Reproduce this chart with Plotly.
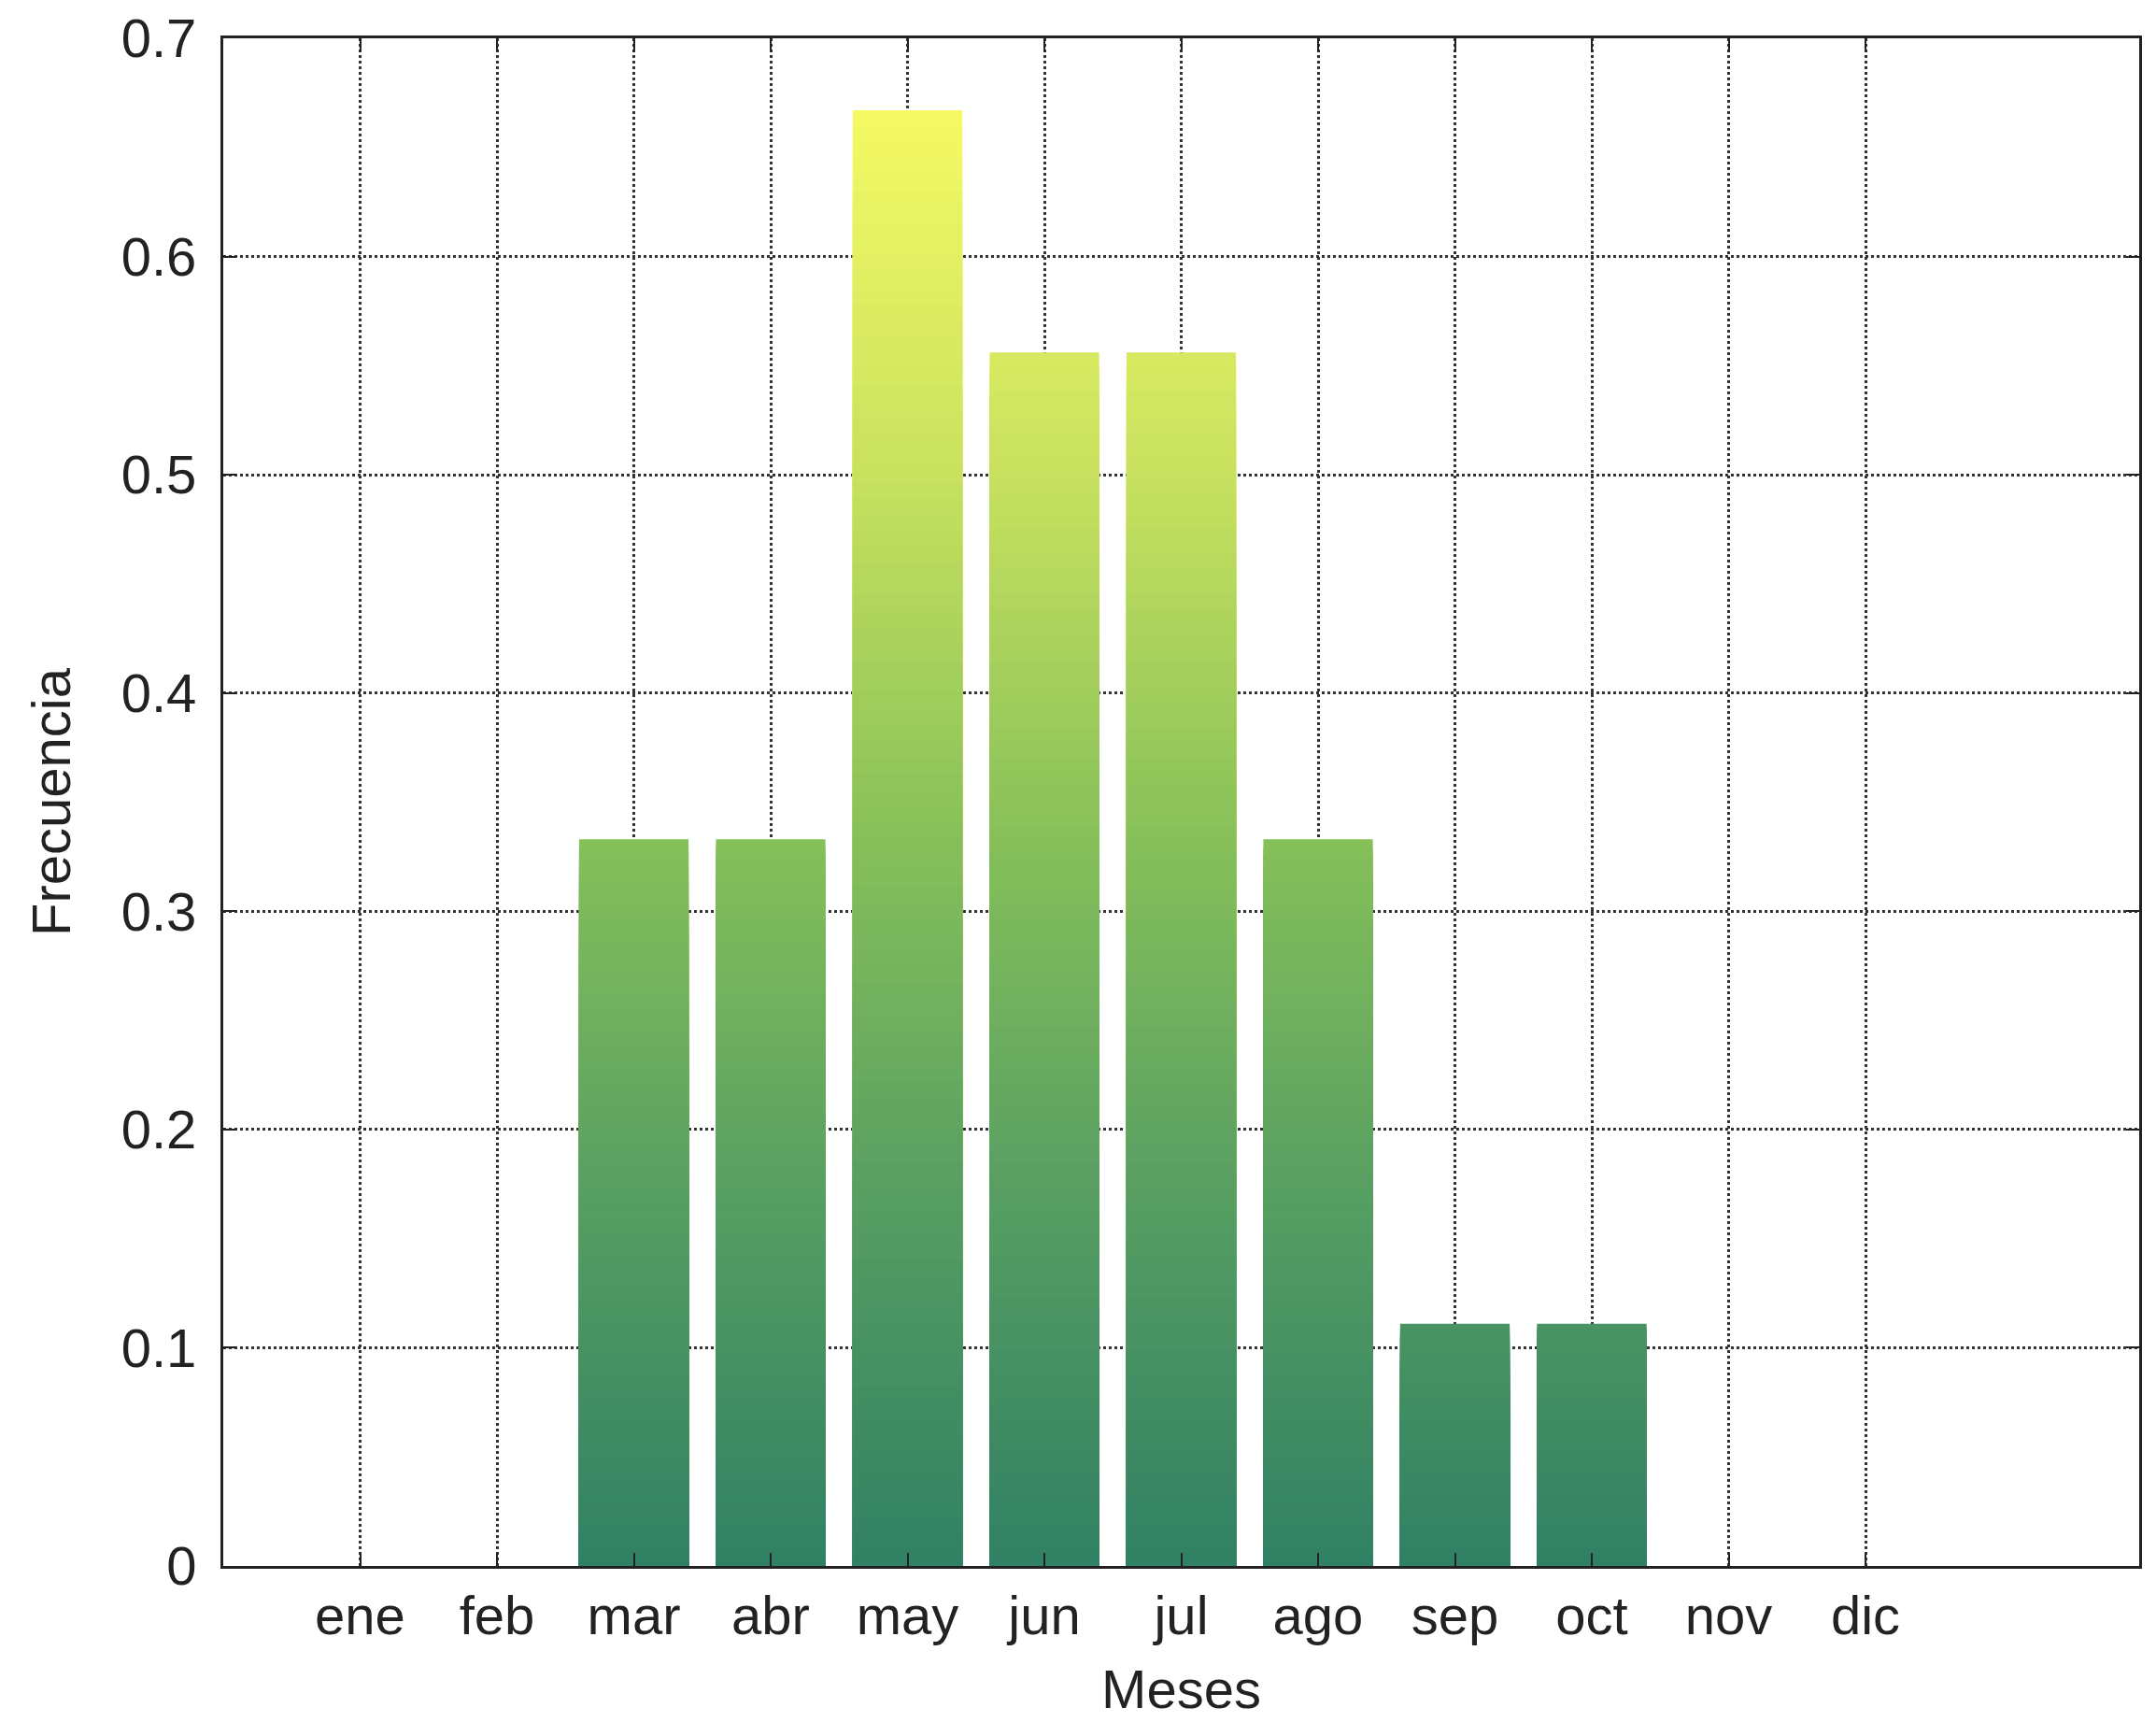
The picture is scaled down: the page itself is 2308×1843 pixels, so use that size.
import plotly.graph_objects as go
from plotly.colors import sample_colorscale

# ---- data ----
meses = ["ene", "feb", "mar", "abr", "may", "jun", "jul", "ago", "sep", "oct", "nov", "dic"]
posiciones = list(range(1, 13))
frecuencia = [0, 0, 0.333, 0.333, 0.667, 0.556, 0.556, 0.333, 0.111, 0.111, 0, 0]
y_ticks = [0, 0.1, 0.2, 0.3, 0.4, 0.5, 0.6, 0.7]
y_ticklabels = ["0", "0.1", "0.2", "0.3", "0.4", "0.5", "0.6", "0.7"]

# ---- style ----
colorscale = [
    [0.0, "rgb(48,128,100)"],
    [0.27, "rgb(90,160,98)"],
    [0.5, "rgb(135,192,90)"],
    [0.75, "rgb(200,225,95)"],
    [1.0, "rgb(245,250,100)"],
]
N_SEG = 90
vmax = max(frecuencia)
FONT = "Liberation Sans, Arial, sans-serif"

# gradient bars: overlay of nested bars (tallest first), each colored by the
# value at the middle of its visible band -> smooth vertical gradient
xs, ys, cols = [], [], []
for x, v in zip(posiciones, frecuencia):
    if v <= 0:
        continue
    for k in range(N_SEG, 0, -1):
        top = v * k / N_SEG
        mid = v * (k - 0.5) / N_SEG
        xs.append(x)
        ys.append(top)
        cols.append(sample_colorscale(colorscale, [mid / vmax])[0])

fig = go.Figure()
fig.add_trace(go.Bar(
    x=xs, y=ys, width=0.8,
    marker=dict(color=cols, line=dict(width=0)),
    showlegend=False, hoverinfo="skip",
))
fig.update_layout(
    barmode="overlay",
    width=2308, height=1843,
    margin=dict(l=231, r=26, t=33, b=175, autoexpand=False),
    paper_bgcolor="white", plot_bgcolor="white",
    font=dict(family=FONT, size=58, color="#222"),
    showlegend=False,
)
fig.update_xaxes(
    range=[0, 14], automargin=False,
    tickmode="array", tickvals=posiciones, ticktext=meses,
    showline=True, linecolor="#222", linewidth=3, mirror="ticks",
    ticks="inside", ticklen=14, tickwidth=2, tickcolor="#222",
    showgrid=True, gridcolor="#333", gridwidth=3, griddash="dot",
    zeroline=False,
    tickfont=dict(size=58, color="#222"),
    ticklabelstandoff=0,
    title=dict(text="Meses", font=dict(size=58, color="#222"), standoff=28),
)
fig.update_yaxes(
    range=[0, 0.7], automargin=False,
    tickmode="array", tickvals=y_ticks, ticktext=y_ticklabels,
    showline=True, linecolor="#222", linewidth=3, mirror="ticks",
    ticks="inside", ticklen=14, tickwidth=2, tickcolor="#222",
    showgrid=True, gridcolor="#333", gridwidth=3, griddash="dot",
    zeroline=False,
    tickfont=dict(size=58, color="#222"),
    ticklabelstandoff=14,
    title=dict(text="Frecuencia", font=dict(size=58, color="#222"), standoff=36),
)
fig.write_html("out.html")
